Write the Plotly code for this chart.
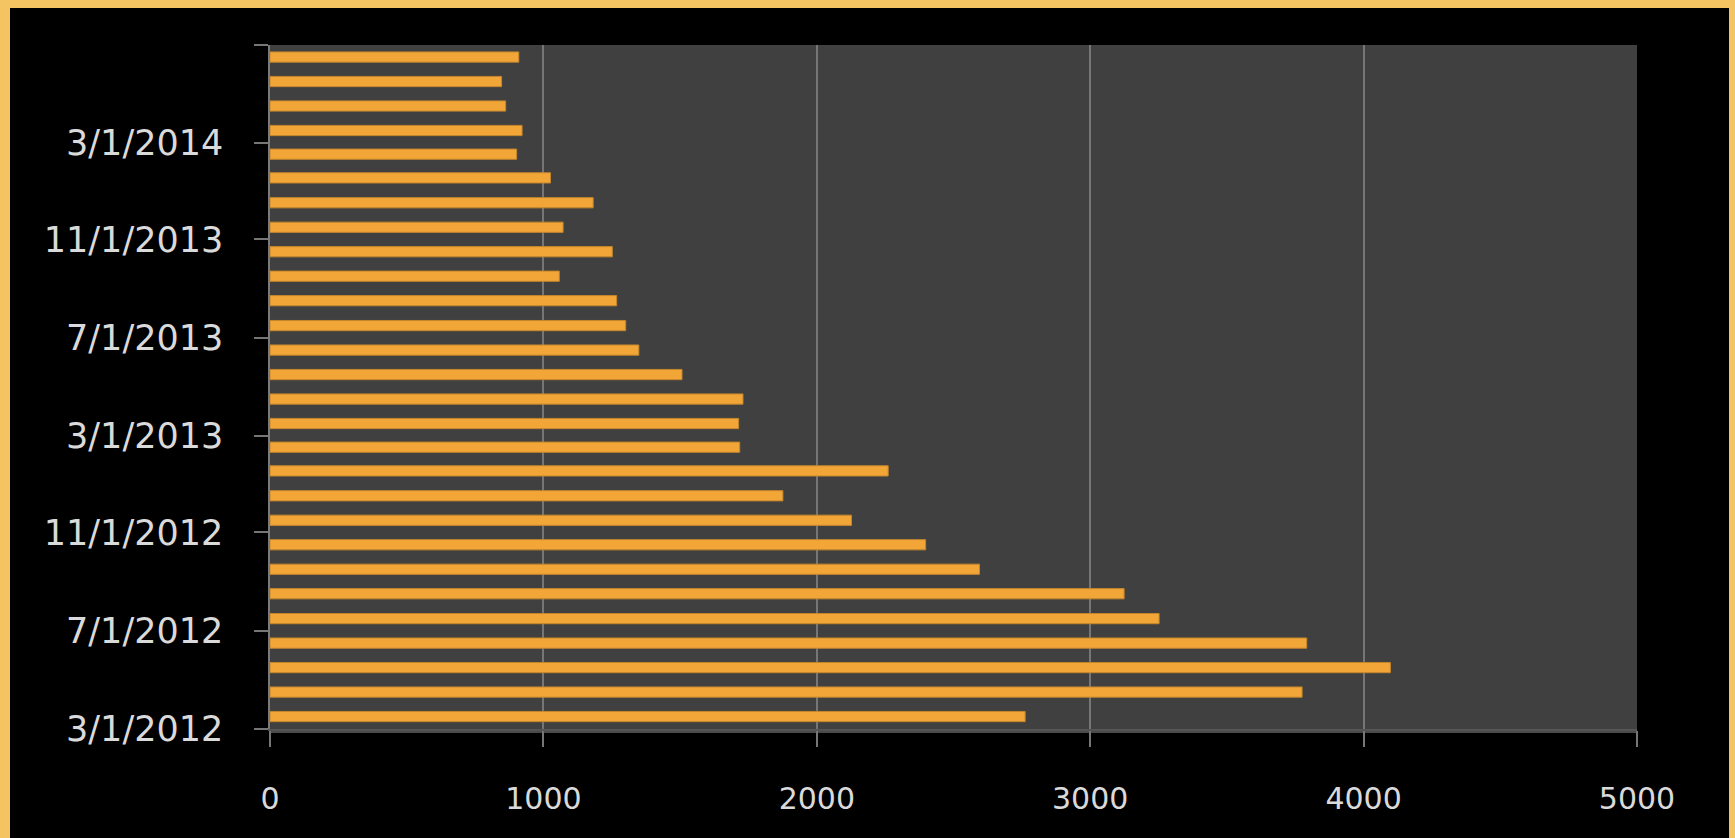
import plotly.graph_objects as go

# ---- data ----
months = [
    "2012-03-01", "2012-04-01", "2012-05-01", "2012-06-01", "2012-07-01", "2012-08-01",
    "2012-09-01", "2012-10-01", "2012-11-01", "2012-12-01", "2013-01-01", "2013-02-01",
    "2013-03-01", "2013-04-01", "2013-05-01", "2013-06-01", "2013-07-01", "2013-08-01",
    "2013-09-01", "2013-10-01", "2013-11-01", "2013-12-01", "2014-01-01", "2014-02-01",
    "2014-03-01", "2014-04-01", "2014-05-01", "2014-06-01",
]
values = [
    2762, 3775, 4098, 3792, 3252, 3124, 2595, 2398, 2127, 1876, 2261, 1718,
    1714, 1730, 1507, 1349, 1301, 1268, 1058, 1252, 1072, 1182, 1026, 902,
    922, 862, 847, 910,
]
tick_dates = ["2012-03-01", "2012-07-01", "2012-11-01", "2013-03-01",
              "2013-07-01", "2013-11-01", "2014-03-01", "2014-07-01"]
tick_labels = ["3/1/2012", "7/1/2012", "11/1/2012", "3/1/2013",
               "7/1/2013", "11/1/2013", "3/1/2014", ""]
x_ticks = [0, 1000, 2000, 3000, 4000, 5000]

# ---- layout geometry (pixels) ----
W, H = 1735, 838
L, R, T, B = 270, 1637, 45, 729


def px(x):
    return (x - L) / (R - L)


def py(y):
    return (B - y) / (B - T)


BAR_COLOR = "#F2A638"
BORDER = "#F4C462"
TEXT = "#dadada"
GRID = "#767676"
FONT = "DejaVu Sans"

fig = go.Figure()
fig.add_trace(go.Bar(
    x=values,
    y=months,
    orientation="h",
    yperiod="M1",
    yperiodalignment="middle",
    width=1.1e9,
    marker=dict(color=BAR_COLOR, line=dict(color="#c4862c", width=1)),
    hoverinfo="x+y",
))

shapes = [
    # yellow frame (left, top, right)
    dict(type="rect", xref="paper", yref="paper", x0=px(0), x1=px(10), y0=py(H), y1=py(0),
         fillcolor=BORDER, line=dict(width=0)),
    dict(type="rect", xref="paper", yref="paper", x0=px(0), x1=px(W), y0=py(8), y1=py(0),
         fillcolor=BORDER, line=dict(width=0)),
    dict(type="rect", xref="paper", yref="paper", x0=px(1729), x1=px(W), y0=py(H), y1=py(0),
         fillcolor=BORDER, line=dict(width=0)),
    # subtle floor edge below plot
    dict(type="rect", xref="paper", yref="paper", x0=px(L), x1=px(R), y0=py(733), y1=py(B),
         fillcolor="#4a4a4a", line=dict(width=0), layer="below"),
]

fig.update_layout(
    width=W, height=H, autosize=False,
    margin=dict(l=L, r=W - R, t=T, b=H - B, pad=0),
    paper_bgcolor="#000000",
    plot_bgcolor="#404040",
    showlegend=False,
    shapes=shapes,
    font=dict(family=FONT, size=32, color=TEXT),
    xaxis=dict(
        range=[0, 5000],
        tickvals=x_ticks,
        showgrid=True, gridcolor=GRID, gridwidth=1.5,
        zeroline=False,
        showline=True, linecolor="#555555", linewidth=1.5,
        ticks="outside", ticklen=16, tickcolor=GRID, tickwidth=1.5,
        ticklabelstandoff=26,
        tickfont=dict(family=FONT, size=30, color=TEXT),
    ),
    yaxis=dict(
        type="date",
        range=["2012-03-01", "2014-07-01"],
        tickvals=tick_dates,
        ticktext=tick_labels,
        showgrid=False,
        zeroline=False,
        showline=True, linecolor="#7a7a7a", linewidth=1.5,
        ticks="outside", ticklen=14, tickcolor=GRID, tickwidth=1.5,
        ticklabelstandoff=24,
        tickfont=dict(family=FONT, size=35, color=TEXT),
    ),
)

fig.write_html(
    "out.html",
    config={"displayModeBar": False},
    post_script="document.body.style.margin='0px';document.body.style.overflow='hidden';",
)
